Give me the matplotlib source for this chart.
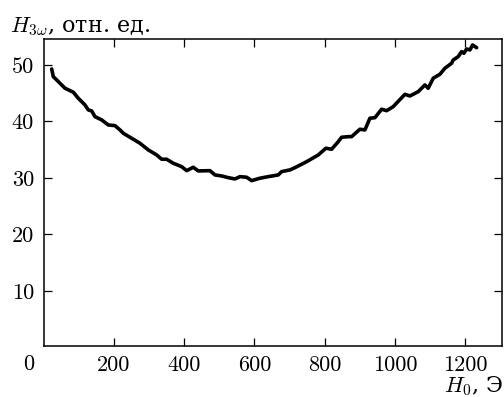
import matplotlib
matplotlib.use("Agg")
import matplotlib.pyplot as plt

plt.rcParams['mathtext.fontset'] = 'cm'
plt.rcParams['font.family'] = ['cmr10']
plt.rcParams['axes.formatter.use_mathtext'] = True

H0 = [22.5, 27.0, 36.7, 51.0, 60.4, 84.0, 98.2, 117.3, 126.7, 136.4, 145.8, 164.9, 183.7,
      202.7, 217.0, 226.4, 273.9, 297.6, 321.5, 335.7, 349.9, 368.7, 392.6, 406.9, 425.7,
      439.9, 473.2, 487.5, 506.5, 525.3, 544.4, 558.7, 577.7, 592.0, 615.6, 639.2, 667.7,
      677.4, 701.0, 715.3, 748.6, 781.6, 803.5, 819.8, 838.6, 848.2, 867.0, 876.7, 900.3,
      914.6, 928.8, 943.1, 962.1, 976.4, 995.2, 1028.5, 1042.7, 1066.3, 1085.4, 1094.8,
      1109.1, 1128.1, 1142.3, 1161.4, 1166.0, 1180.2, 1189.9, 1196.5, 1204.2, 1213.6,
      1221.3, 1232.7]
H3w = [49.29, 47.93, 47.35, 46.46, 45.88, 45.18, 44.11, 42.92, 42.04, 41.86, 40.85, 40.27,
       39.38, 39.26, 38.50, 37.91, 36.14, 34.96, 34.07, 33.31, 33.31, 32.60, 32.00, 31.29,
       31.89, 31.24, 31.29, 30.53, 30.35, 30.05, 29.82, 30.23, 30.12, 29.52, 29.95, 30.23,
       30.53, 31.12, 31.42, 31.82, 32.88, 34.07, 35.26, 35.08, 36.42, 37.20, 37.31, 37.31,
       38.62, 38.50, 40.57, 40.67, 42.16, 41.91, 42.62, 44.81, 44.51, 45.27, 46.46, 45.88,
       47.65, 48.35, 49.42, 50.30, 50.88, 51.47, 52.35, 52.07, 52.83, 52.65, 53.54, 53.06]

xticks = [200, 400, 600, 800, 1000, 1200]
yticks = [10, 20, 30, 40, 50]

fig = plt.figure(figsize=(5.04, 3.97), dpi=100)
ax = fig.add_axes([43.8/504, 1-345.7/397, (502-43.8)/504, (345.7-38.7)/397])
ax.plot(H0, H3w, color='black', lw=2.6, solid_joinstyle='round', solid_capstyle='round')
ax.set_xlim(0, 1305)
ax.set_ylim(0.3, 54.65)
ax.set_xticks(xticks)
ax.set_xticklabels([str(t) for t in xticks])
ax.set_yticks(yticks)
ax.set_yticklabels([str(t) for t in yticks])
ax.tick_params(direction='in', length=6, width=0.9, top=True, right=True,
               labelsize=16, pad=7)
for s in ax.spines.values():
    s.set_linewidth(1.1)

serif = ['DejaVu Serif']
fig.text(29/504, 1-364/397, '0', fontsize=16, ha='center', va='center')
t1 = fig.text(10/504, 1-32/397, r'$H_{3\omega}$, отн. ед.', fontsize=16,
              family=serif, ha='left', va='baseline')
t2 = fig.text(503/504, 1-392/397, r'$H_0$, Э', fontsize=16, family=serif,
              ha='right', va='baseline')

fig.savefig('out.png', dpi=100)
